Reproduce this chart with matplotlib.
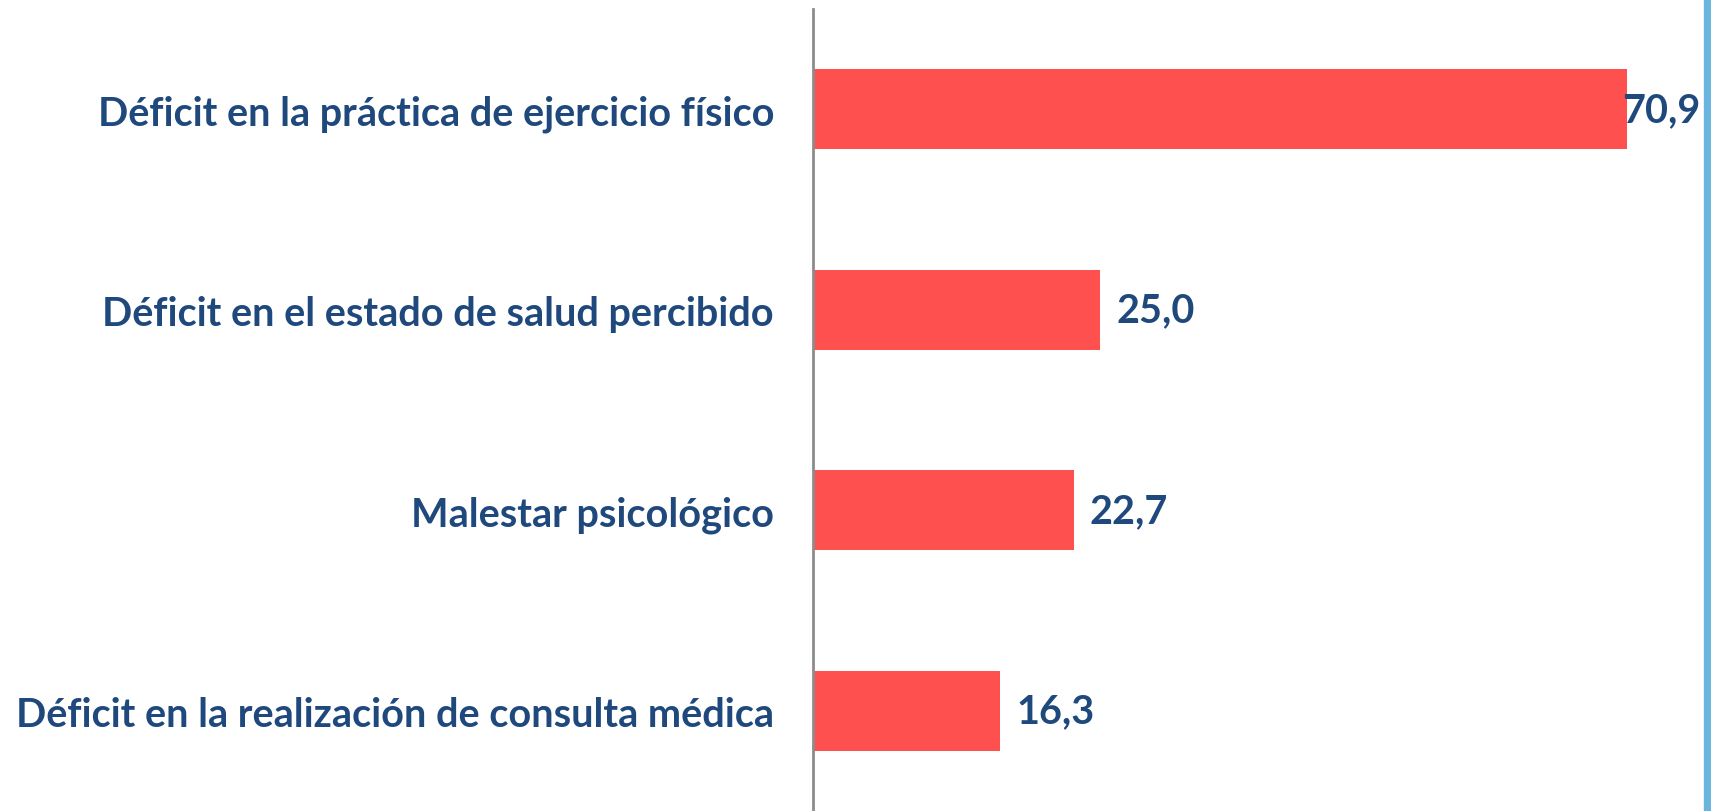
import numpy as np
import matplotlib.pyplot as plt
from matplotlib.patches import Rectangle

# data
categories = ["Déficit en la práctica de ejercicio físico",
              "Déficit en el estado de salud percibido",
              "Malestar psicológico",
              "Déficit en la realización de consulta médica"]
values = [70.9, 25.0, 22.7, 16.3]
value_labels = ["70,9", "25,0", "22,7", "16,3"]

TEXT_COLOR = "#1F497D"
BAR_COLOR = "#FF5050"
W, H = 1711, 812

plt.rcParams['font.family'] = ['Lato', 'DejaVu Sans']
fig = plt.figure(figsize=(W / 100, H / 100), dpi=100)
ax = fig.add_axes([813 / W, 0, (1700 - 813) / W, (H - 10) / H])

y = np.arange(len(categories))
ax.barh(y, values, height=0.4, color=BAR_COLOR)
ax.set_xlim(0, 887 / 11.48)
ax.set_ylim(len(categories) - 0.5, -0.5)

# value labels, kept inside the plot for the longest bar
label_x = np.minimum(np.array(values) + 1.4, 70.5)
for yi, lx, txt in zip(y, label_x, value_labels):
    ax.text(lx, yi, txt, va='center', ha='left', fontsize=28.5,
            fontweight='bold', color=TEXT_COLOR)

ax.set_yticks(y)
ax.set_yticklabels(categories, fontsize=28.5, fontweight='bold', color=TEXT_COLOR)
ax.tick_params(axis='y', length=0, pad=28)
ax.set_xticks([])
for s in ['top', 'right', 'bottom']:
    ax.spines[s].set_visible(False)
ax.spines['left'].set_color('#8C8C8C')
ax.spines['left'].set_linewidth(2)

# blue stripe at right edge
fig.patches.append(Rectangle((1704 / W, 0), 7 / W, 1, transform=fig.transFigure,
                             color='#6CB4E0', zorder=0))

fig.savefig("out.png", dpi=100)
